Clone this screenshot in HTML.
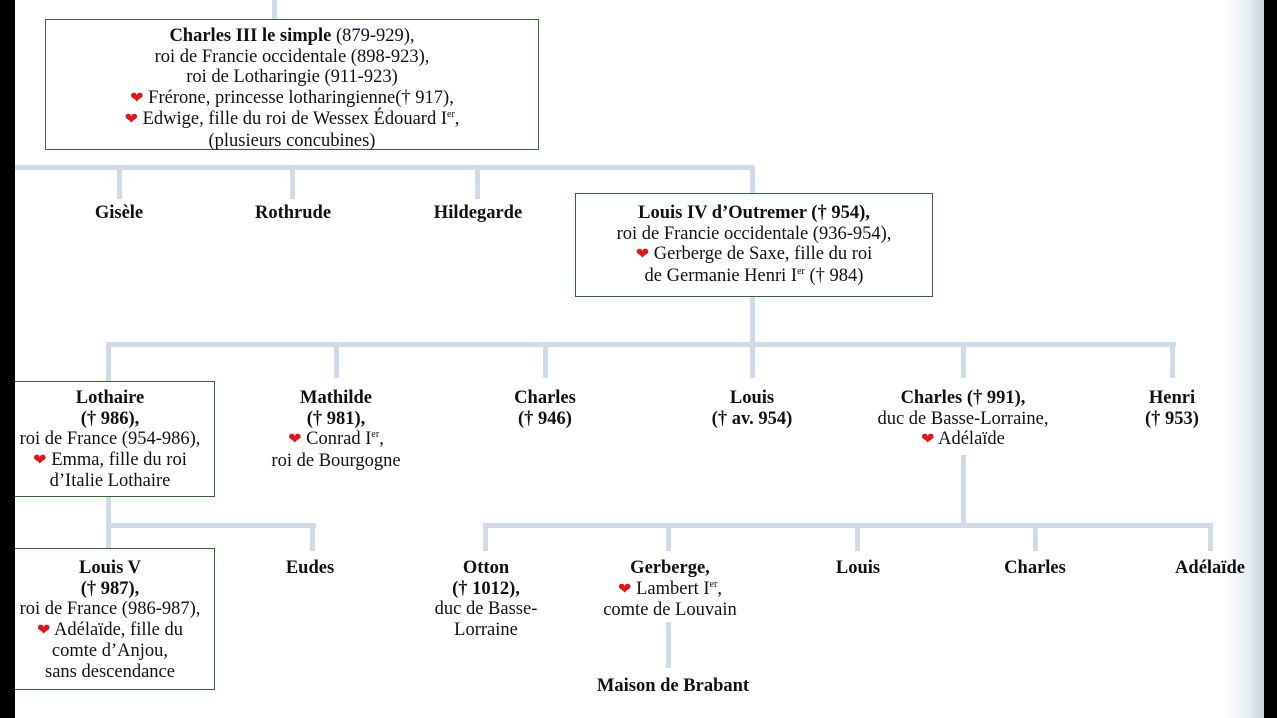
<!DOCTYPE html>
<html><head><meta charset="utf-8"><style>
body{margin:0;width:1277px;height:718px;overflow:hidden;background:#fff;position:relative;font-family:"Liberation Serif",serif;color:#111}
.l{position:absolute;background:#cfdbe9}
.b{position:absolute;border:1.5px solid #2f6b2f;box-sizing:border-box;background:#fff}
.t{position:absolute;text-align:center;font-size:18.5px;line-height:20.5px;transform:translateX(-50%);white-space:nowrap}
b{font-weight:bold}
.h{color:#e0161c;font-size:16px}
sup{font-size:10px;vertical-align:7px;line-height:0}
</style></head><body>
<div style="position:absolute;left:1225px;top:0;width:40px;height:718px;background:linear-gradient(90deg,#fff,#e4edf0 60%,#c9d4d8)"></div>
<div style="position:absolute;left:1264px;top:0;width:13px;height:718px;background:#000"></div>

<div class="l" style="left:272px;top:0;width:5px;height:20px"></div>
<div class="l" style="left:15px;top:165px;width:740px;height:5px"></div>
<div class="l" style="left:117px;top:165px;width:5px;height:34px"></div>
<div class="l" style="left:290px;top:165px;width:5px;height:34px"></div>
<div class="l" style="left:475px;top:165px;width:5px;height:34px"></div>
<div class="l" style="left:750px;top:165px;width:5px;height:30px"></div>
<div class="l" style="left:750px;top:296px;width:5px;height:50px"></div>
<div class="l" style="left:106px;top:342px;width:1070px;height:5px"></div>
<div class="l" style="left:106px;top:342px;width:5px;height:40px"></div>
<div class="l" style="left:334px;top:342px;width:5px;height:36px"></div>
<div class="l" style="left:543px;top:342px;width:5px;height:36px"></div>
<div class="l" style="left:750px;top:342px;width:5px;height:36px"></div>
<div class="l" style="left:961px;top:342px;width:5px;height:36px"></div>
<div class="l" style="left:1170px;top:342px;width:5px;height:36px"></div>
<div class="l" style="left:106px;top:496px;width:5px;height:54px"></div>
<div class="l" style="left:106px;top:523px;width:210px;height:5px"></div>
<div class="l" style="left:310px;top:523px;width:5px;height:28px"></div>
<div class="l" style="left:961px;top:455px;width:5px;height:72px"></div>
<div class="l" style="left:483px;top:523px;width:730px;height:5px"></div>
<div class="l" style="left:483px;top:523px;width:5px;height:28px"></div>
<div class="l" style="left:666px;top:523px;width:5px;height:28px"></div>
<div class="l" style="left:855px;top:523px;width:5px;height:28px"></div>
<div class="l" style="left:1033px;top:523px;width:5px;height:28px"></div>
<div class="l" style="left:1208px;top:523px;width:5px;height:28px"></div>
<div class="l" style="left:666px;top:622px;width:5px;height:46px"></div>

<div class="b" style="left:45px;top:19px;width:494px;height:131px"></div>
<div class="t" style="left:292px;top:26px"><b>Charles III le simple</b> (879-929),<br>roi de Francie occidentale (898-923),<br>roi de Lotharingie (911-923)<br><span class="h">❤</span> Frérone, princesse lotharingienne(† 917),<br><span class="h">❤</span> Edwige, fille du roi de Wessex Édouard I<sup>er</sup>,<br>(plusieurs concubines)</div>
<div class="t" style="left:119px;top:203px"><b>Gisèle</b></div>
<div class="t" style="left:293px;top:203px"><b>Rothrude</b></div>
<div class="t" style="left:478px;top:203px"><b>Hildegarde</b></div>
<div class="b" style="left:575px;top:193px;width:358px;height:104px"></div>
<div class="t" style="left:754px;top:203px"><b>Louis IV d’Outremer († 954),</b><br>roi de Francie occidentale (936-954),<br><span class="h">❤</span> Gerberge de Saxe, fille du roi<br>de Germanie Henri I<sup>er</sup> († 984)</div>

<div class="b" style="left:10px;top:381px;width:205px;height:116px"></div>
<div class="t" style="left:110px;top:388px"><b>Lothaire<br>(† 986),</b><br>roi de France (954-986),<br><span class="h">❤</span> Emma, fille du roi<br>d’Italie Lothaire</div>
<div class="t" style="left:336px;top:388px"><b>Mathilde<br>(† 981),</b><br><span class="h">❤</span> Conrad I<sup>er</sup>,<br>roi de Bourgogne</div>
<div class="t" style="left:545px;top:388px"><b>Charles<br>(† 946)</b></div>
<div class="t" style="left:752px;top:388px"><b>Louis</b><br><b>(† av. 954)</b></div>
<div class="t" style="left:963px;top:388px"><b>Charles († 991),</b><br>duc de Basse-Lorraine,<br><span class="h">❤</span> Adélaïde</div>
<div class="t" style="left:1172px;top:388px"><b>Henri<br>(† 953)</b></div>

<div class="b" style="left:10px;top:548px;width:205px;height:142px"></div>
<div class="t" style="left:110px;top:558px"><b>Louis V<br>(† 987),</b><br>roi de France (986-987),<br><span class="h">❤</span> Adélaïde, fille du<br>comte d’Anjou,<br>sans descendance</div>
<div class="t" style="left:310px;top:558px"><b>Eudes</b></div>
<div class="t" style="left:486px;top:558px"><b>Otton<br>(† 1012),</b><br>duc de Basse-<br>Lorraine</div>
<div class="t" style="left:670px;top:558px"><b>Gerberge,</b><br><span class="h">❤</span> Lambert I<sup>er</sup>,<br>comte de Louvain</div>
<div class="t" style="left:858px;top:558px"><b>Louis</b></div>
<div class="t" style="left:1035px;top:558px"><b>Charles</b></div>
<div class="t" style="left:1210px;top:558px"><b>Adélaïde</b></div>
<div class="t" style="left:673px;top:676px"><b>Maison de Brabant</b></div>
<div style="position:absolute;left:0;top:0;width:15px;height:718px;background:#000"></div>
</body></html>
